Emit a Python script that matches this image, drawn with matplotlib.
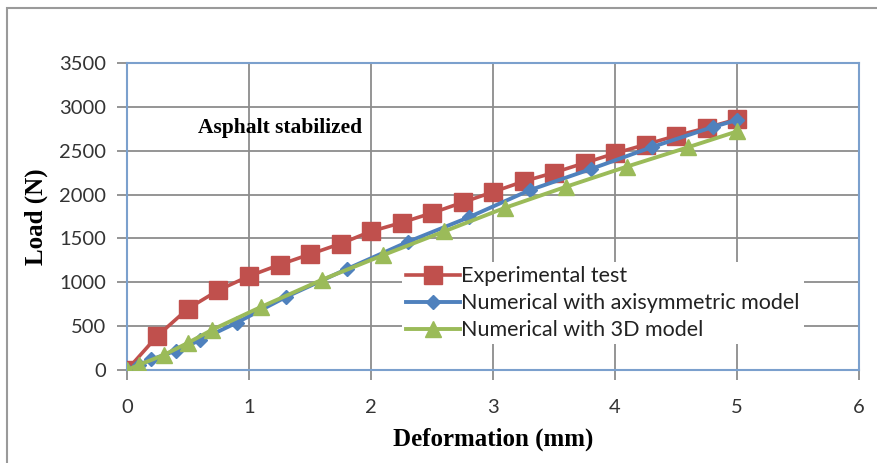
import numpy as np
import matplotlib
matplotlib.use('Agg')
import matplotlib.pyplot as plt
from matplotlib.patches import Rectangle

# data
exp_x = [0, 0.25, 0.5, 0.75, 1.0, 1.25, 1.5, 1.75, 2.0, 2.25, 2.5,
         2.75, 3.0, 3.25, 3.5, 3.75, 4.0, 4.25, 4.5, 4.75, 5.0]
exp_y = [0, 390, 700, 910, 1070, 1200, 1320, 1440, 1580, 1680, 1790,
         1910, 2030, 2150, 2250, 2360, 2470, 2570, 2670, 2760, 2860]

axi_x = [0, 0.1, 0.2, 0.4, 0.6, 0.9, 1.3, 1.8, 2.3, 2.8, 3.3, 3.8, 4.3, 4.8, 5.0]
axi_y = [0, 60, 120, 220, 340, 540, 830, 1150, 1460, 1740, 2050, 2290, 2540, 2770, 2850]

td_x = [0, 0.1, 0.3, 0.5, 0.7, 1.1, 1.6, 2.1, 2.6, 3.1, 3.6, 4.1, 4.6, 5.0]
td_y = [0, 60, 170, 310, 460, 720, 1030, 1310, 1580, 1850, 2090, 2320, 2540, 2720]

labels = ['Experimental test', 'Numerical with axisymmetric model', 'Numerical with 3D model']
xticks = [0, 1, 2, 3, 4, 5, 6]
yticks = [0, 500, 1000, 1500, 2000, 2500, 3000, 3500]

red = '#C0504D'
blue = '#4F81BD'
green = '#9BBB59'
gridc = '#8C8C8C'

plt.rcParams['font.family'] = ['Lato', 'DejaVu Sans']

fig = plt.figure(figsize=(8.78, 4.63), dpi=100)
fig.patches.append(Rectangle((7/878, -0.05), 1.1, 1 - 8/463 + 0.05, transform=fig.transFigure,
                             fill=False, edgecolor='#9A9A9A', linewidth=1.5))
ax = fig.add_axes([127/878, 1 - 370/463, 732/878, 307/463])

ax.plot(exp_x, exp_y, color=red, lw=2.6, marker='s', ms=13, mec=red, zorder=3, label=labels[0])
ax.plot(axi_x, axi_y, color=blue, lw=2.8, marker='D', ms=7.5, mec=blue, zorder=4, label=labels[1])
ax.plot(td_x, td_y, color=green, lw=2.8, marker='^', ms=11, mec=green, zorder=5, label=labels[2])

ax.set_xlim(0, 6)
ax.set_ylim(0, 3500)
ax.set_xticks(xticks)
ax.set_yticks(yticks)
ax.grid(True, color=gridc, lw=1.3, zorder=0)
ax.set_axisbelow(True)
for s in ax.spines.values():
    s.set_color('#7BA0CD')
    s.set_linewidth(1.5)
ax.tick_params(direction='out', length=7, width=1.3, color=gridc,
               labelsize=14.5, labelcolor='#333333')
ax.tick_params(axis='x', pad=14)
ax.tick_params(axis='y', pad=8)

ax.set_xlabel('Deformation (mm)', family='Liberation Serif', fontweight='bold',
              fontsize=18, labelpad=8)
ax.set_ylabel('Load (N)', family='Liberation Serif', fontweight='bold',
              fontsize=18, labelpad=8)
ax.text(198/878, 1 - 128/463, 'Asphalt stabilized', transform=fig.transFigure,
        family='Liberation Serif', fontweight='bold', fontsize=15.5, va='center')

leg = ax.legend(loc='upper left', bbox_to_anchor=(402/878, 1 - 262/463),
                bbox_transform=fig.transFigure, frameon=True, fancybox=False,
                edgecolor='none', facecolor='white', framealpha=1, fontsize=15.5,
                borderpad=0.2, borderaxespad=0, handlelength=2.5,
                handletextpad=0.05, labelspacing=0.32)
leg.set_zorder(10)
for t in leg.get_texts():
    t.set_color('#222222')

fig.savefig('out.png', dpi=100)
